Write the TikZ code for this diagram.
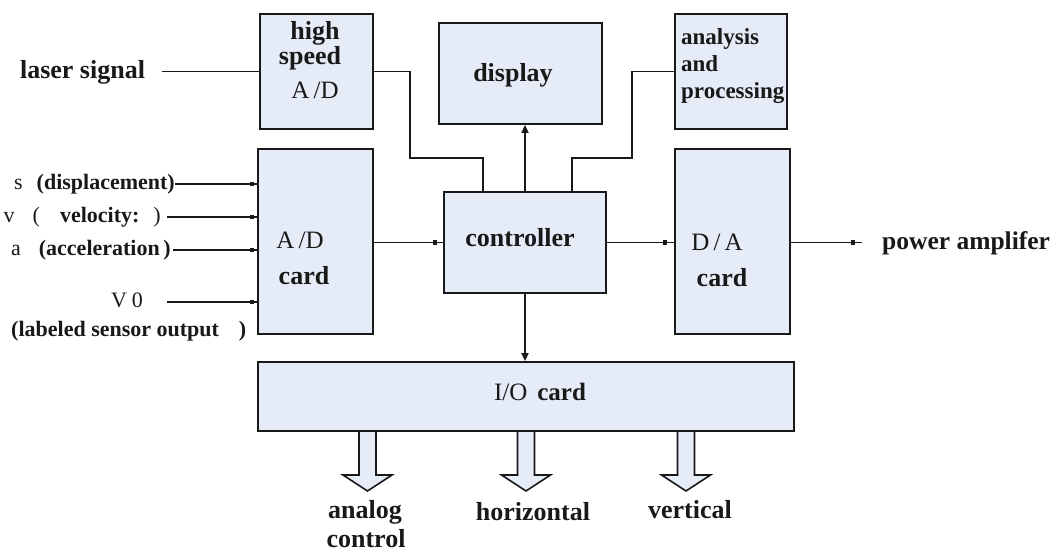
\documentclass[tikz,border=0pt]{standalone}
\usepackage{fontspec}
\setmainfont{Liberation Serif}
\usetikzlibrary{arrows.meta,decorations.markings,calc}
\definecolor{boxfill}{RGB}{229,236,247}
\definecolor{ink}{RGB}{25,25,25}
\tikzset{
  blk/.style={draw=ink, fill=boxfill, line width=1.8pt, inner sep=0pt},
  wire/.style={draw=ink, line width=1.7pt},
  dotin/.style={wire, postaction={decorate},
    decoration={markings, mark=at position -#1 with {\fill[ink] (-2.1pt,-2.1pt) rectangle (2.1pt,2.1pt);}}},
  dotin/.default=5pt,
  tipin/.style={wire, -{Triangle[length=8pt,width=7pt]}},
  fatarrow/.style={draw=ink, fill=boxfill, line width=1.6pt, line join=miter},
  txt/.style={inner sep=0pt, text=ink},
  bt/.style={txt, font=\fontsize{26}{28}\selectfont\bfseries, text height=17.7pt, text depth=5.2pt},
  rt/.style={txt, font=\fontsize{25}{27}\selectfont, text height=17pt, text depth=5pt},
  lt/.style={txt, font=\fontsize{22}{24}\selectfont, text height=15pt, text depth=4.4pt},
  antxt/.style={txt, font=\fontsize{23}{25}\selectfont\bfseries, text height=15.6pt, text depth=4.6pt},
}
\newcommand\fatdown[1]{%
  \filldraw[fatarrow] (#1-8.5,432) -- (#1-8.5,475) -- (#1-24.5,475) -- (#1,491)
    -- (#1+24.5,475) -- (#1+8.5,475) -- (#1+8.5,432);}
\begin{document}
\begin{tikzpicture}[x=1pt,y=-1pt]
\useasboundingbox[fill=white] (0,0) rectangle (1057,553);

% boxes
\node[blk, minimum width=113pt, minimum height=115pt] (hs)   at (316.5,71.5) {};
\node[blk, minimum width=163pt, minimum height=101pt] (disp) at (520.5,73.5) {};
\node[blk, minimum width=112pt, minimum height=115pt] (ana)  at (731,71.5) {};
\node[blk, minimum width=115pt, minimum height=185pt] (adc)  at (315.5,241.5) {};
\node[blk, minimum width=162pt, minimum height=101pt] (ctrl) at (525,242.5) {};
\node[blk, minimum width=115pt, minimum height=185pt] (dac)  at (732.5,241.5) {};
\node[blk, minimum width=536pt, minimum height=69pt]  (io)   at (526,396.5) {};

% box texts
\node[bt] (hsa) at (315,33) {high};
\node[bt] (hsb) at (310,58) {speed};
\node[rt] (hsc) at (315,93) {A\,/D};
\node[bt] (dispt) at (513,75) {display};
\node[antxt, anchor=west] (ana1) at (681,39) {analysis};
\node[antxt, anchor=west] (ana2) at (681,66) {and};
\node[antxt, anchor=west] (ana3) at (681,93) {processing};
\node[rt] (adca) at (300,243) {A\,/D};
\node[bt] (adcb) at (304,278) {card};
\node[bt] (ctrlt) at (520,240) {controller};
\node[rt] (daca) at (717,245) {D\,/\,A};
\node[bt] (dacb) at (722,280) {card};
\node[rt] (iot) at (540,394) {I/O\hspace{10pt}\textbf{card}};

% outside labels
\node[bt] (laser) at (82.5,72) {laser signal};
\node[lt, anchor=east] (ls) at (175,184) {s\hspace{14pt}\textbf{(displacement)}};
\node[lt, anchor=east] (lv) at (161,217) {v\hspace{18pt}(\hspace{20pt}\textbf{velocity:}\hspace{14pt})};
\node[lt, anchor=east] (la) at (171,250) {a\hspace{18pt}\textbf{(acceleration\,)}};
\node[lt] (lv0) at (127,302) {V\hspace{5pt}0};
\node[lt, anchor=west] (lso) at (11,331) {\textbf{(labeled sensor output}\hspace{20pt}\textbf{)}};
\node[txt, font=\fontsize{25.5}{27}\selectfont\bfseries, text height=17.3pt, text depth=5.1pt, anchor=west] (pa) at (882,243) {power amplifer};
\node[bt] (an1) at (365,512) {analog};
\node[bt] (an2) at (366,541) {control};
\node[bt] (hor) at (533,514) {horizontal};
\node[bt] (ver) at (690,512) {vertical};

% connector start points
\coordinate (lsw) at (162,71.5);
\coordinate (hsj1) at (410,71.5);
\coordinate (hsj2) at (483,158);
\coordinate (anj1) at (632,71.5);
\coordinate (anj2) at (572,158);
\coordinate (s0) at (175,184);
\coordinate (v0) at (167,217);
\coordinate (a0) at (173,250);
\coordinate (w0) at (167,302);
\coordinate (paw) at (862,242.5);

% connectors
\draw[wire] (lsw) -- (hs.west);
\draw[wire] (hs.east) -- (hsj1) |- (hsj2) -- (hsj2 |- ctrl.north);
\draw[wire] (ana.west) -- (anj1) |- (anj2) -- (anj2 |- ctrl.north);
\draw[tipin] (ctrl.north) -- (ctrl.north |- disp.south);
\draw[dotin] (s0) -- (s0 -| adc.west);
\draw[dotin] (v0) -- (v0 -| adc.west);
\draw[dotin] (a0) -- (a0 -| adc.west);
\draw[dotin] (w0) -- (w0 -| adc.west);
\draw[dotin=8pt] (adc.east |- ctrl.west) -- (ctrl.west);
\draw[dotin=9pt] (ctrl.east) -- (ctrl.east -| dac.west);
\draw[dotin=9pt] (dac.east |- paw) -- (paw);
\draw[tipin] (ctrl.south) -- (ctrl.south |- io.north);

% block arrows
\fatdown{367.5}
\fatdown{526}
\fatdown{686}
\end{tikzpicture}
\end{document}
